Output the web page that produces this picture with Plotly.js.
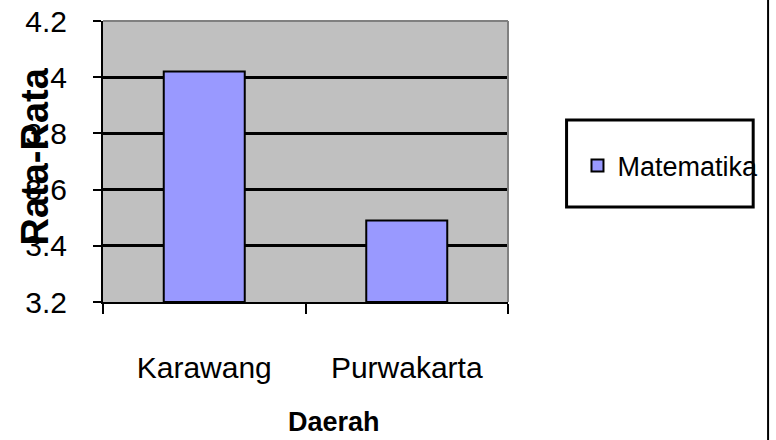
<!DOCTYPE html>
<html><head><meta charset="utf-8">
<script src="https://cdn.plot.ly/plotly-3.0.1.min.js"></script>
<style>html,body{margin:0;padding:0;background:#fff;overflow:hidden}#chart{width:776px;height:440px}</style>
</head><body><div id="chart"></div>
<script>
var categories = ["Karawang", "Purwakarta"];
var matematika = [4.02, 3.49];
var seriesName = "Matematika";
var yTicks = [3.2, 3.4, 3.6, 3.8, 4.0, 4.2];
var yTickText = ["3.2", "3.4", "3.6", "3.8", "4", "4.2"];
var yMin = 3.2, yMax = 4.2;

var F = "'Liberation Sans', Arial, sans-serif";

var trace = {
  type: "bar", x: categories,
  y: matematika.map(function(v){ return v - yMin; }),
  base: yMin, name: seriesName,
  marker: {color: "#9999FF", line: {color: "#000", width: 2}},
  showlegend: true, hoverinfo: "skip"
};

var L = 103, R = 511, T = 21, B = 302;
function px(x){ return (x - L) / (R - L); }
function py(y){ return (B - y) / (B - T); }

var layout = {
  width: 776, height: 440,
  margin: {l: L, r: 776 - R, t: T, b: 440 - B},
  paper_bgcolor: "#fff", plot_bgcolor: "#C0C0C0",
  bargap: 0.6,
  font: {family: F, color: "#000"},
  xaxis: {
    type: "category", showline: true, linecolor: "#000", linewidth: 2,
    ticks: "outside", tickson: "boundaries", ticklen: 10, tickwidth: 2, tickcolor: "#000",
    tickfont: {size: 30, family: F}, ticklabelstandoff: 38,
    showgrid: false, zeroline: false, automargin: false
  },
  yaxis: {
    range: [yMin, yMax], tickvals: yTicks, ticktext: yTickText,
    showline: true, linecolor: "#000", linewidth: 2,
    ticks: "outside", ticklen: 8, tickwidth: 2, tickcolor: "#000",
    tickfont: {size: 30, family: F}, ticklabelstandoff: 20,
    showgrid: true, gridcolor: "#000", gridwidth: 3, zeroline: false, automargin: false
  },
  legend: {
    x: px(581), y: py(166), xanchor: "left", yanchor: "middle",
    bgcolor: "rgba(0,0,0,0)", borderwidth: 0,
    font: {size: 27, family: F}, itemwidth: 30
  },
  shapes: [
    {type: "line", xref: "paper", yref: "paper", x0: 0, x1: 1, y0: 1, y1: 1, line: {color: "#808080", width: 2}},
    {type: "line", xref: "paper", yref: "paper", x0: 1, x1: 1, y0: 0, y1: 1, line: {color: "#808080", width: 2}},
    {type: "rect", xref: "paper", yref: "paper", x0: px(570), x1: px(758), y0: py(207), y1: py(120), line: {color: "#000", width: 3}},
    {type: "line", xref: "paper", yref: "paper", x0: px(773), x1: px(773), y0: py(440), y1: py(0), line: {color: "#000", width: 2}}
  ],
  annotations: [
    {text: "<b>Rata-Rata</b>", textangle: -90, xref: "paper", yref: "paper", x: px(34), y: py(157),
     xanchor: "center", yanchor: "middle", showarrow: false, font: {size: 38, family: F}},
    {text: "<b>Daerah</b>", xref: "paper", yref: "paper", x: px(336), y: py(422),
     xanchor: "center", yanchor: "middle", showarrow: false, font: {size: 27, family: F}}
  ]
};
Plotly.newPlot("chart", [trace], layout, {staticPlot: true});
</script></body></html>
